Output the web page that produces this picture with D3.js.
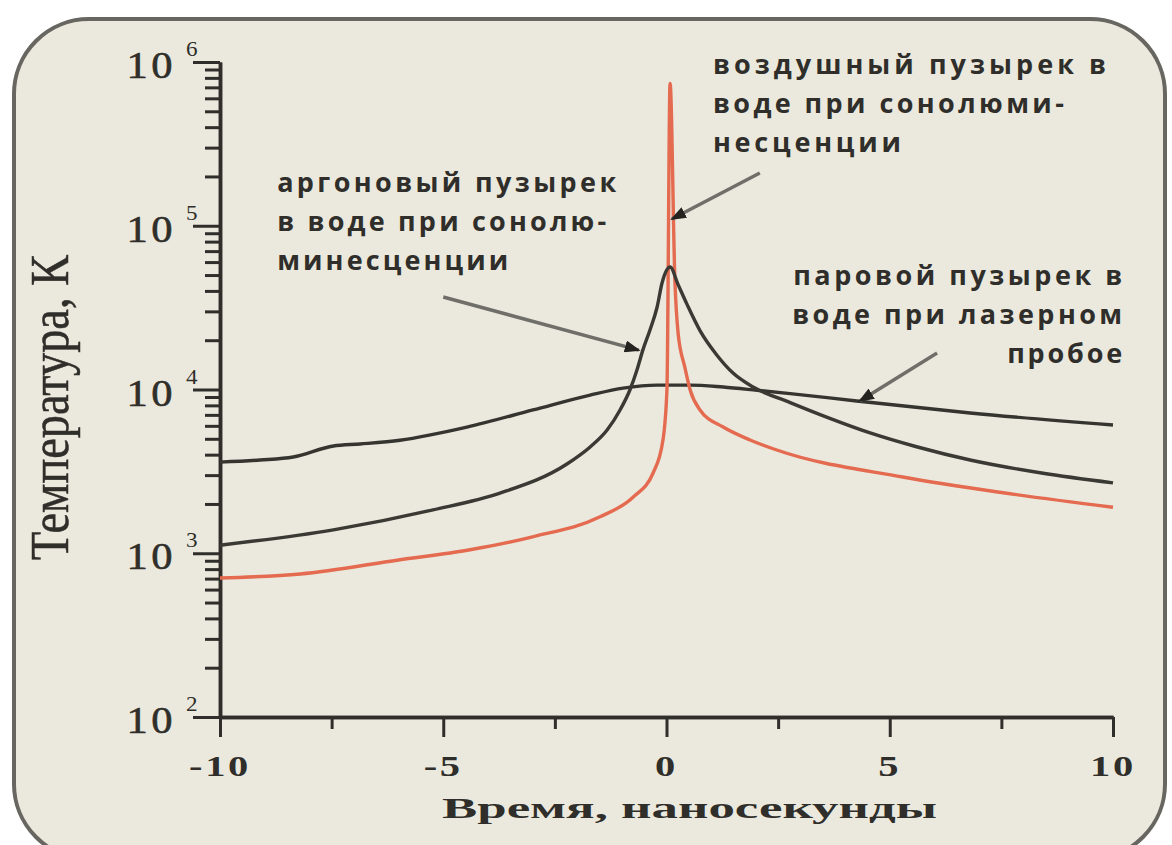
<!DOCTYPE html>
<html><head><meta charset="utf-8">
<script src="https://cdn.jsdelivr.net/npm/d3@7"></script>
<style>html,body{margin:0;padding:0;background:#fff;} svg{display:block;}</style>
</head><body>
<svg id="chart" width="1172" height="845"></svg>
<script>
// ---------- data ----------
const airTime   = [-10, -8.2, -6.0, -4.4, -3.0, -1.5, -0.75, -0.3, -0.08, 0.01, 0.08, 0.19, 0.26, 0.41, 0.53, 0.75, 1.27, 1.87, 2.47, 5.29, 7.54, 10];
const airTemp   = [706, 747, 910, 1050, 1260, 1665, 2200, 3090, 4900, 10000, 740000, 44700, 22100, 13700, 9930, 7500, 5900, 4920, 4270, 2920, 2340, 1910];

const argonTime = [-10, -7.46, -5.23, -3.73, -2.23, -1.71, -1.33, -1.04, -0.82, -0.66, -0.53, -0.37, -0.21, -0.10, 0.08, 0.26, 0.46, 0.75, 1.13, 1.49, 1.94, 2.77, 3.6, 4.56, 5.6, 6.8, 8.4, 10];
const argonTemp = [1120, 1390, 1840, 2330, 3510, 4460, 5660, 7500, 9930, 13200, 17400, 23100, 31900, 44700, 56000, 43700, 33100, 22900, 16200, 12600, 10350, 8320, 6760, 5430, 4470, 3710, 3090, 2690];

const vaporTime = [-10, -9.1, -8.36, -7.46, -6.86, -5.97, -4.47, -2.99, -1.71, -0.97, -0.21, 0.53, 1.27, 2.03, 2.77, 4.26, 6.8, 10];
const vaporTemp = [3600, 3710, 3870, 4520, 4650, 4900, 5890, 7500, 9250, 10200, 10640, 10640, 10350, 9890, 9440, 8510, 7190, 6070];

const xMajorTicks = [-10, -5, 0, 5, 10];
const xTickLabels = ["-10", "-5", "0", "5", "10"];
const xMinorTicks = [-7.5, -2.5, 2.5, 7.5];
const yDecades    = [100, 1000, 10000, 100000, 1000000];
const yExponents  = ["2", "3", "4", "5", "6"];

const xTitle = "Время, наносекунды";
const yTitle = "Температура, К";

const airLabel   = ["воздушный пузырек в", "воде при сонолюми-", "несценции"];
const argonLabel = ["аргоновый  пузырек", "в воде при сонолю-", "минесценции"];
const vaporLabel = ["паровой  пузырек в", "воде при лазерном", "пробое"];

// arrow [from, to] in data units (time, temperature)
const airArrow   = [[2.09, 210000], [0.12, 110000]];
const argonArrow = [[-5.0, 36700], [-0.62, 17400]];
const vaporArrow = [[6.06, 16700], [4.33, 8500]];

// ---------- layout ----------
const svg = d3.select("#chart");
const x = d3.scaleLinear().domain([-10, 10]).range([220, 1113]);
const y = d3.scaleLog().domain([100, 1e6]).range([717, 62]);

const ink = "#2f2e2a";
const bg = "#ebe9dd";

svg.append("rect").attr("width", 1172).attr("height", 845).attr("fill", "#ffffff");
svg.append("rect")
  .attr("x", 14).attr("y", 19).attr("width", 1151).attr("height", 840)
  .attr("rx", 75).attr("ry", 75)
  .attr("fill", bg).attr("stroke", "#676661").attr("stroke-width", 4);

// defs: arrowhead
svg.append("defs").append("marker")
  .attr("id", "ah").attr("markerUnits", "userSpaceOnUse")
  .attr("viewBox", "0 0 16 12").attr("refX", 14).attr("refY", 6)
  .attr("markerWidth", 16).attr("markerHeight", 12).attr("orient", "auto")
  .append("path").attr("d", "M0,0 L16,6 L0,12 Z").attr("fill", "#24231f");

// ---------- axes ----------
function styleAxis(g) {
  g.selectAll("path.domain").attr("stroke", ink).attr("stroke-width", 3.5);
  g.selectAll(".tick line").attr("stroke", ink).attr("stroke-width", 3);
  g.selectAll(".tick text").remove();
}

const yMinor = [];
for (let e = 2; e < 6; e++) for (let k = 2; k <= 9; k++) yMinor.push(k * Math.pow(10, e));

svg.append("g").attr("transform", "translate(220,0)")
  .call(d3.axisLeft(y).tickValues(yMinor).tickSize(15).tickSizeOuter(0).tickFormat(""))
  .call(styleAxis);
svg.append("g").attr("transform", "translate(220,0)")
  .call(d3.axisLeft(y).tickValues(yDecades).tickSize(27).tickSizeOuter(0).tickFormat(""))
  .call(styleAxis);

svg.append("g").attr("transform", "translate(0,717)")
  .call(d3.axisBottom(x).tickValues(xMinorTicks).tickSize(12).tickSizeOuter(0).tickFormat(""))
  .call(styleAxis);
svg.append("g").attr("transform", "translate(0,717)")
  .call(d3.axisBottom(x).tickValues(xMajorTicks).tickSize(20).tickSizeOuter(0).tickFormat(""))
  .call(styleAxis);

// y tick labels 10^n
const yl = svg.append("g").attr("fill", ink).attr("font-family", "'Liberation Serif', 'Times New Roman', serif");
yDecades.forEach((v, i) => {
  yl.append("text")
    .attr("transform", `translate(176,${y(v) + 16}) scale(1.15,1)`)
    .attr("text-anchor", "end").attr("font-size", 37).attr("letter-spacing", 3)
    .attr("stroke", ink).attr("stroke-width", 0.6)
    .text("10");
  yl.append("text")
    .attr("transform", `translate(186,${y(v) - 6}) scale(1.1,1)`)
    .attr("font-size", 21)
    .text(yExponents[i]);
});

// x tick labels
const xl = svg.append("g").attr("fill", ink).attr("font-family", "'Liberation Serif', 'Times New Roman', serif")
  .attr("font-weight", "bold");
xMajorTicks.forEach((v, i) => {
  xl.append("text")
    .attr("transform", `translate(${x(v)},776) scale(1.35,1)`)
    .attr("text-anchor", "middle").attr("font-size", 30).attr("letter-spacing", 2)
    .text(xTickLabels[i]);
});

// axis titles
svg.append("text")
  .attr("x", (x(-10) + x(10)) / 2 + 23).attr("y", 818)
  .attr("text-anchor", "middle")
  .attr("font-family", "'Liberation Serif', 'Times New Roman', serif")
  .attr("font-weight", "bold").attr("font-size", 30).attr("fill", ink)
  .attr("textLength", 495).attr("lengthAdjust", "spacingAndGlyphs")
  .text(xTitle);

svg.append("text")
  .attr("transform", `translate(68,${y(10000) + 18}) rotate(-90)`)
  .attr("text-anchor", "middle")
  .attr("font-family", "'Liberation Serif', 'Times New Roman', serif")
  .attr("font-size", 54).attr("fill", ink)
  .attr("stroke", ink).attr("stroke-width", 0.5)
  .attr("textLength", 305).attr("lengthAdjust", "spacingAndGlyphs")
  .text(yTitle);

// ---------- series ----------
const line = d3.line().x(d => x(d[0])).y(d => y(d[1])).curve(d3.curveMonotoneX);
const zip = (a, b) => a.map((t, i) => [t, b[i]]);

svg.append("path").datum(zip(vaporTime, vaporTemp))
  .attr("d", line).attr("fill", "none").attr("stroke", "#35342f").attr("stroke-width", 3.4)
  .attr("stroke-linejoin", "round");
svg.append("path").datum(zip(airTime, airTemp))
  .attr("d", line).attr("fill", "none").attr("stroke", "#e46a50").attr("stroke-width", 3.4)
  .attr("stroke-linejoin", "round");
svg.append("path").datum(zip(argonTime, argonTemp))
  .attr("d", line).attr("fill", "none").attr("stroke", "#3a3934").attr("stroke-width", 3.4)
  .attr("stroke-linejoin", "round");

// ---------- annotations ----------
function arrow(a) {
  svg.append("line")
    .attr("x1", x(a[0][0])).attr("y1", y(a[0][1]))
    .attr("x2", x(a[1][0])).attr("y2", y(a[1][1]))
    .attr("stroke", "#6f6e68").attr("stroke-width", 3.5)
    .attr("marker-end", "url(#ah)");
}
arrow(airArrow);
arrow(argonArrow);
arrow(vaporArrow);

function label(lines, px, py, widths, anchor) {
  const g = svg.append("g")
    .attr("font-family", "'Open Sans', 'Noto Sans', sans-serif")
    .attr("font-weight", "bold").attr("font-size", 27).attr("fill", ink)
    .attr("text-anchor", anchor);
  lines.forEach((s, i) => {
    g.append("text")
      .attr("x", px).attr("y", py + i * 39)
      .attr("letter-spacing", 2)
      .attr("textLength", widths[i]).attr("lengthAdjust", "spacing")
      .text(s);
  });
}
label(airLabel,   x(1.04),  74,  [395, 353, 190], "start");
label(argonLabel, x(-8.72), 192, [341, 331, 233], "start");
label(vaporLabel, x(10.25), 285, [331, 332, 117], "end");
</script>
</body></html>
